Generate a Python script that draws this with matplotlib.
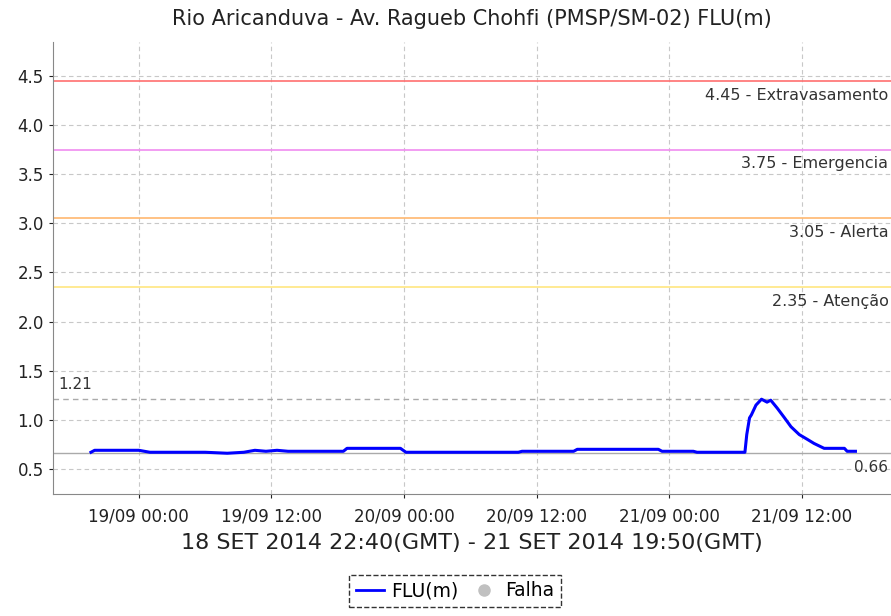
import matplotlib.pyplot as plt
import matplotlib.dates as mdates
from matplotlib.lines import Line2D
import pandas as pd

# leituras (hora local, GMT-3) e nivel em metros
tempos = ["2014-09-18 19:40", "2014-09-18 20:00", "2014-09-19 00:00", "2014-09-19 01:00",
          "2014-09-19 06:00", "2014-09-19 08:00", "2014-09-19 09:30", "2014-09-19 10:30",
          "2014-09-19 11:30", "2014-09-19 12:30", "2014-09-19 13:30", "2014-09-19 18:30",
          "2014-09-19 18:50", "2014-09-19 23:40", "2014-09-20 00:10", "2014-09-20 10:20",
          "2014-09-20 10:40", "2014-09-20 15:20", "2014-09-20 15:40", "2014-09-20 23:00",
          "2014-09-20 23:20", "2014-09-21 02:10", "2014-09-21 02:30", "2014-09-21 06:50",
          "2014-09-21 07:00", "2014-09-21 07:15", "2014-09-21 07:25", "2014-09-21 07:50",
          "2014-09-21 08:20", "2014-09-21 08:50", "2014-09-21 09:10", "2014-09-21 09:45",
          "2014-09-21 10:25", "2014-09-21 11:00", "2014-09-21 11:45", "2014-09-21 12:30",
          "2014-09-21 13:05", "2014-09-21 14:00", "2014-09-21 15:50", "2014-09-21 16:05",
          "2014-09-21 16:50"]
nivel = [0.67, 0.69, 0.69, 0.67,
         0.67, 0.66, 0.67, 0.69,
         0.68, 0.69, 0.68, 0.68,
         0.71, 0.71, 0.67, 0.67,
         0.68, 0.68, 0.70, 0.70,
         0.68, 0.68, 0.67, 0.67,
         0.85, 1.02, 1.05, 1.15,
         1.21, 1.18, 1.20, 1.12,
         1.02, 0.93, 0.85, 0.80,
         0.76, 0.71, 0.71, 0.68,
         0.68]

cotas = [4.45, 3.75, 3.05, 2.35]
nomes = ["Extravasamento", "Emergencia", "Alerta", "Atenção"]
cores = ["#ff7070", "#f08cf0", "#ffb870", "#ffe680"]

t = pd.to_datetime(tempos)

fig = plt.figure(figsize=(8.91, 6.16), dpi=100)
ax = fig.add_axes([0.0595, 0.198, 0.9405, 0.734])

ax.set_xlim(pd.Timestamp("2014-09-18 16:14"), pd.Timestamp("2014-09-21 20:03"))
ax.set_ylim(0.245, 4.846)

ax.grid(True, color="#c8c8c8", linestyle=(0, (4, 3)), linewidth=0.8)
ax.set_axisbelow(True)

for v, n, c in zip(cotas, nomes, cores):
    ax.axhline(v, color=c, linewidth=1.2)
    ax.text(0.997, v - 0.07, f"{v:.2f} - {n}", transform=ax.get_yaxis_transform(),
            ha="right", va="top", fontsize=11.5, color="#333333")

vmax, vmin = max(nivel), min(nivel)
ax.axhline(vmax, color="#aaaaaa", linestyle=(0, (4, 3)), linewidth=1)
ax.axhline(vmin, color="#aaaaaa", linewidth=1)
ax.text(0.006, vmax + 0.07, f"{vmax:.2f}", transform=ax.get_yaxis_transform(),
        ha="left", va="bottom", fontsize=11, color="#333333")
ax.text(0.997, vmin - 0.07, f"{vmin:.2f}", transform=ax.get_yaxis_transform(),
        ha="right", va="top", fontsize=11, color="#333333")

ax.plot(t, nivel, color="#0000ff", linewidth=2.2)

ax.set_yticks([0.5, 1.0, 1.5, 2.0, 2.5, 3.0, 3.5, 4.0, 4.5])
ax.xaxis.set_major_locator(mdates.HourLocator(byhour=[0, 12]))
ax.xaxis.set_major_formatter(mdates.DateFormatter("%d/%m %H:%M"))
ax.tick_params(labelsize=12, colors="#222222", length=3)
ax.tick_params(axis="x", pad=7)

for s in ["top", "right"]:
    ax.spines[s].set_visible(False)
for s in ["left", "bottom"]:
    ax.spines[s].set_color("#888888")

ax.set_title("Rio Aricanduva - Av. Ragueb Chohfi (PMSP/SM-02) FLU(m)", fontsize=15,
             color="#222222", pad=12)
ax.set_xlabel("18 SET 2014 22:40(GMT) - 21 SET 2014 19:50(GMT)", fontsize=16,
              color="#222222", labelpad=5)

handles = [Line2D([], [], color="#0000ff", linewidth=2),
           Line2D([], [], color="#c0c0c0", marker="o", linestyle="none", markersize=8)]
leg = fig.legend(handles, ["FLU(m)", "Falha"], loc="lower center", bbox_to_anchor=(0.511, 0.0),
                 ncol=2, fontsize=13.5, frameon=True, fancybox=False, handlelength=1.5,
                 handletextpad=0.4, columnspacing=0.6, borderpad=0.35)
leg.get_frame().set_edgecolor("black")
leg.get_frame().set_linestyle("--")
leg.get_frame().set_linewidth(1)

fig.savefig("out.png", dpi=100)
